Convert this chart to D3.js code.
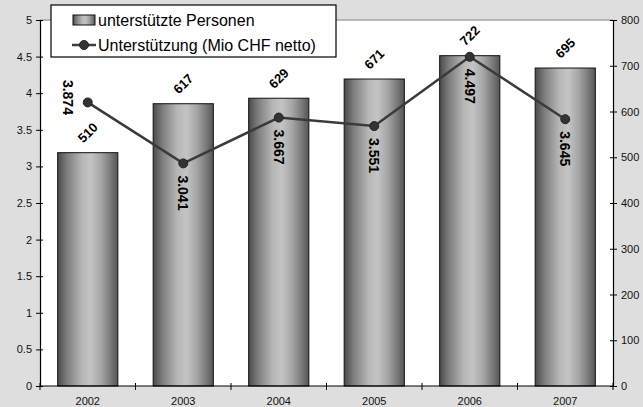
<!DOCTYPE html>
<html><head><meta charset="utf-8">
<script src="https://cdn.jsdelivr.net/npm/d3@7"></script>
<style>
html,body{margin:0;padding:0;background:#dedede;}
svg{display:block;font-family:"Liberation Sans",Arial,sans-serif;}
</style></head>
<body>
<svg id="c" width="643" height="407"></svg>
<script>
const years = ["2002","2003","2004","2005","2006","2007"];
const persons = [510, 617, 629, 671, 722, 695];
const support = [3.874, 3.041, 3.667, 3.551, 4.497, 3.645];
const supportLabels = ["3.874","3.041","3.667","3.551","4.497","3.645"];
const labelPos = ["left","below","below","below","below","below"];
const leftTicks = [0,0.5,1,1.5,2,2.5,3,3.5,4,4.5,5];
const rightTicks = [0,100,200,300,400,500,600,700,800];
const legendNames = ["unterstützte Personen","Unterstützung (Mio CHF netto)"];

const svg = d3.select("#c");
const L = 40, R = 613, T = 20, B = 386;

const xCat = d3.scaleBand().domain(years).range([L, R]).padding(0);
const xBar = d3.scaleBand().domain(years).range([L, R]).paddingInner(0.37).paddingOuter(0.185);
const yL = d3.scaleLinear().domain([0,5]).range([B, T]);
const yR = d3.scaleLinear().domain([0,800]).range([B, T]);

// gradient
const defs = svg.append("defs");
const g = defs.append("linearGradient").attr("id","barGrad").attr("x1","0").attr("x2","1").attr("y1","0").attr("y2","0");
[["0%","#4a4a4a"],["15%","#7c7c7c"],["40%","#b6b6b6"],["55%","#c4c4c4"],["72%","#a6a6a6"],["88%","#7a7a7a"],["100%","#555555"]]
  .forEach(s => g.append("stop").attr("offset", s[0]).attr("stop-color", s[1]));

// plot area
svg.append("rect").attr("x", L).attr("y", T).attr("width", R-L).attr("height", B-T).attr("fill","#fff");
svg.append("line").attr("x1", L).attr("x2", R).attr("y1", T).attr("y2", T).attr("stroke","#a6a6a6").attr("stroke-width",1.5);

// bars
svg.append("g").selectAll("rect").data(years).join("rect")
  .attr("x", d => xBar(d)).attr("width", xBar.bandwidth())
  .attr("y", (d,i) => yR(persons[i])).attr("height", (d,i) => B - yR(persons[i]))
  .attr("fill","url(#barGrad)").attr("stroke","#111").attr("stroke-width",1);

// axes
const fontSize = 11;
const ax1 = svg.append("g").attr("transform",`translate(${L},0)`)
  .call(d3.axisLeft(yL).tickValues(leftTicks).tickFormat(d => String(d)).tickSize(4).tickPadding(4));
const ax2 = svg.append("g").attr("transform",`translate(${R},0)`)
  .call(d3.axisRight(yR).tickValues(rightTicks).tickFormat(d => String(d)).tickSize(4).tickPadding(4));
ax1.selectAll(".tick line").attr("x1", 3);
ax2.selectAll(".tick line").attr("x1", -3);
const ax3 = svg.append("g").attr("transform",`translate(0,${B})`)
  .call(d3.axisBottom(xCat).tickSize(0).tickPadding(11));
ax3.select(".domain").remove();
[ax1,ax2,ax3].forEach(a => {
  a.selectAll("text").attr("font-size", fontSize).attr("fill","#111").attr("font-family","Liberation Sans, Arial, sans-serif");
  a.selectAll(".domain").attr("stroke","#000").attr("stroke-width",1.2);
  a.selectAll(".tick line").attr("stroke","#000");
});
svg.append("line").attr("x1", L).attr("x2", R).attr("y1", B).attr("y2", B).attr("stroke","#000").attr("stroke-width",1.2);
const bounds = years.map(d => xCat(d)).concat([R]);
svg.append("g").selectAll("line").data(bounds).join("line")
  .attr("x1", d => d).attr("x2", d => d).attr("y1", B-3).attr("y2", B+4).attr("stroke","#000");

// bar labels
svg.append("g").selectAll("text").data(years).join("text")
  .attr("transform", (d,i) => `translate(${xBar(d)+xBar.bandwidth()/2},${yR(persons[i])-20}) rotate(-45)`)
  .attr("text-anchor","middle").attr("dy","0.35em")
  .attr("font-size",13).attr("font-weight","bold").attr("fill","#000")
  .text((d,i) => persons[i]);

// line
const cx = d => xCat(d) + xCat.bandwidth()/2;
svg.append("path").datum(years)
  .attr("d", d3.line().x(d => cx(d)).y((d,i) => yL(support[i])))
  .attr("fill","none").attr("stroke","#3a3a3a").attr("stroke-width",2.5);
svg.append("g").selectAll("circle").data(years).join("circle")
  .attr("cx", d => cx(d)).attr("cy", (d,i) => yL(support[i])).attr("r",4.5)
  .attr("fill","#333").attr("stroke","#222").attr("stroke-width",1);

// line labels
svg.append("g").selectAll("text").data(years).join("text")
  .attr("transform", (d,i) => labelPos[i] === "left"
      ? `translate(${cx(d)-20},${yL(support[i])-5}) rotate(90)`
      : `translate(${cx(d)},${yL(support[i])+12}) rotate(90)`)
  .attr("text-anchor", (d,i) => labelPos[i] === "left" ? "middle" : "start")
  .attr("dy","0.35em")
  .attr("font-size",14).attr("font-weight","bold").attr("fill","#000")
  .text((d,i) => supportLabels[i]);

// legend
const lg = svg.append("g");
lg.append("rect").attr("x",51).attr("y",5).attr("width",285).attr("height",52)
  .attr("fill","#fff").attr("stroke","#000").attr("stroke-width",1.2);
lg.append("rect").attr("x",73).attr("y",15).attr("width",22).attr("height",10)
  .attr("fill","url(#barGrad)").attr("stroke","#111").attr("stroke-width",1);
lg.append("line").attr("x1",72).attr("x2",96).attr("y1",45).attr("y2",45).attr("stroke","#3a3a3a").attr("stroke-width",2.5);
lg.append("circle").attr("cx",84).attr("cy",45).attr("r",4.5).attr("fill","#333").attr("stroke","#222");
lg.selectAll("text.l").data(legendNames).join("text").attr("class","l")
  .attr("x",98).attr("y",(d,i) => 20 + i*25).attr("dy","0.35em")
  .attr("font-size",16).attr("fill","#000").text(d => d);
</script>
</body></html>
